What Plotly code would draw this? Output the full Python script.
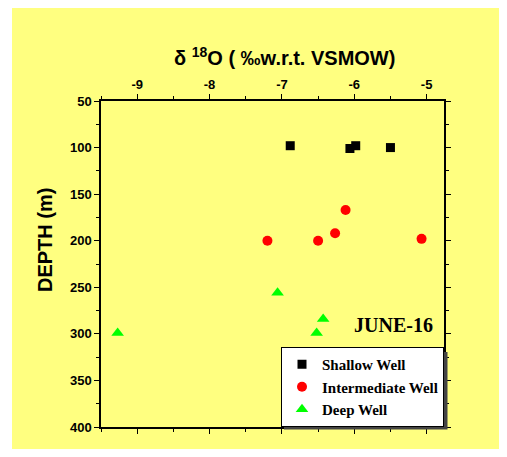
import plotly.graph_objects as go

# Data
shallow_x = [-6.885, -6.06, -5.98, -5.50]
shallow_y = [98, 101, 98, 100]
inter_x = [-7.20, -6.50, -6.265, -6.12, -5.07]
inter_y = [200, 200, 192, 167, 198]
deep_x = [-9.27, -7.06, -6.43, -6.52]
deep_y = [299, 256, 284, 299]

x_ticks = [-9, -8, -7, -6, -5]
x_labels = ["-9", "-8", "-7", "-6", "-5"]
y_ticks = [50, 100, 150, 200, 250, 300, 350, 400]

# page body has an 8px margin on each side; size the figure so no scrollbars appear
OFF = 8
W, H = 507 - 2 * OFF, 457 - 2 * OFF
L, T = 101 - OFF, 101 - OFF
R = W - (444 - OFF)
B = H - (427 - OFF)
pw, ph = W - L - R, H - T - B

def px(xp):
    return (xp - OFF - L) / pw

def py(yp):
    return 1 - (yp - OFF - T) / ph

fig = go.Figure()
fig.add_trace(go.Scatter(x=shallow_x, y=shallow_y, mode="markers", name="Shallow Well",
                         marker=dict(symbol="square", size=9, color="black")))
fig.add_trace(go.Scatter(x=inter_x, y=inter_y, mode="markers", name="Intermediate Well",
                         marker=dict(symbol="circle", size=10, color="#FF0000")))
fig.add_trace(go.Scatter(x=deep_x, y=deep_y, mode="markers", name="Deep Well",
                         marker=dict(symbol="triangle-up", size=11, color="#00FF00")))

sans = "Liberation Sans, Arial, sans-serif"
serif = "Liberation Serif, Times New Roman, serif"

fig.update_layout(
    width=W, height=H,
    margin=dict(l=L, r=R, t=T, b=B, pad=0),
    paper_bgcolor="white",
    plot_bgcolor="rgba(0,0,0,0)",
    showlegend=True,
    legend=dict(x=1, y=0, xanchor="right", yanchor="bottom",
                bgcolor="white", bordercolor="black", borderwidth=1,
                font=dict(family=serif, size=15, color="black", weight="bold"),
                tracegroupgap=0),
    xaxis=dict(range=[-9.5, -4.76], side="top", tickvals=x_ticks, ticktext=x_labels,
               ticks="outside", ticklen=5, tickwidth=1, tickcolor="black",
               minor=dict(dtick=0.5, ticks="outside", ticklen=3, tickcolor="black"),
               showline=True, linecolor="black", linewidth=1.5, mirror="allticks",
               showgrid=False, zeroline=False, automargin=False,
               tickfont=dict(family=sans, size=13, color="black", weight="bold")),
    yaxis=dict(range=[400, 50], tickvals=y_ticks,
               ticks="outside", ticklen=5, tickwidth=1, tickcolor="black",
               minor=dict(dtick=25, ticks="outside", ticklen=3, tickcolor="black"),
               showline=True, linecolor="black", linewidth=1.5, mirror="allticks",
               showgrid=False, zeroline=False, automargin=False,
               tickfont=dict(family=sans, size=13, color="black", weight="bold")),
)

# Yellow grid-paper background
fig.add_shape(type="rect", xref="paper", yref="paper", layer="below",
              x0=px(12), x1=px(520), y0=py(470), y1=py(7),
              fillcolor="#FFFF80", line=dict(width=0))

# legend drop shadow
fig.add_shape(type="rect", xref="paper", yref="paper", layer="above",
              x0=px(284), x1=px(447.5), y0=py(429.5), y1=py(352),
              fillcolor="#444444", line=dict(width=0))

fig.add_annotation(xref="paper", yref="paper", x=px(284), y=py(57),
                   xanchor="center", yanchor="middle",
                   text="δ <sup>18</sup>O ( ‰w.r.t. VSMOW)", showarrow=False,
                   font=dict(family=sans, size=20, color="black", weight="bold"))
fig.add_annotation(xref="paper", yref="paper", x=px(45), y=py(240),
                   xanchor="center", yanchor="middle",
                   text="DEPTH (m)", textangle=-90, showarrow=False,
                   font=dict(family=sans, size=20, color="black", weight="bold"))
fig.add_annotation(xref="paper", yref="paper", x=px(393), y=py(325),
                   xanchor="center", yanchor="middle",
                   text="JUNE-16", showarrow=False,
                   font=dict(family=serif, size=20, color="black", weight="bold"))

fig.write_html("out.html")
